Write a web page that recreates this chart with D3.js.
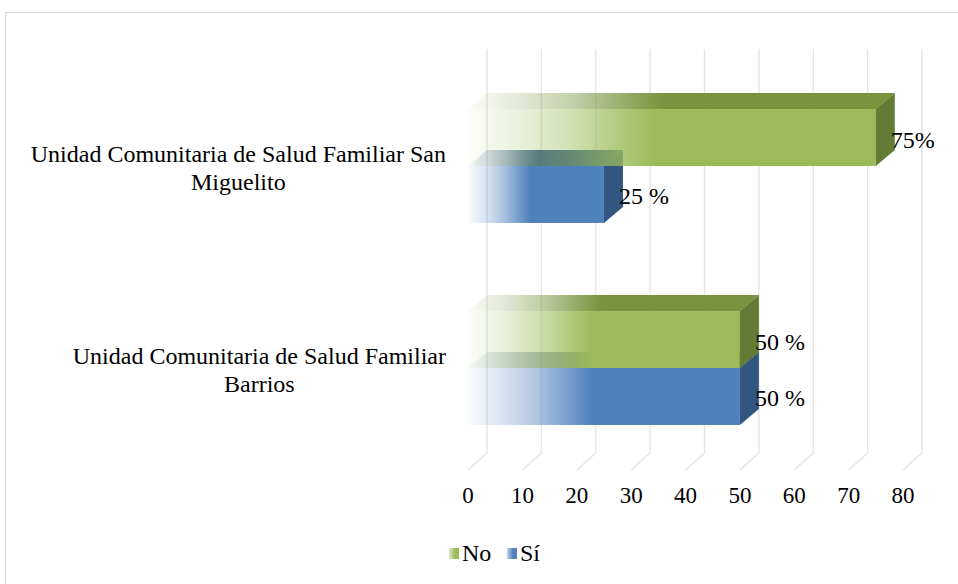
<!DOCTYPE html>
<html>
<head>
<meta charset="utf-8">
<script src="https://cdn.jsdelivr.net/npm/d3@7"></script>
<style>
	body { margin: 0; background: #fff; }
</style>
</head>
<body>
<div id="viz"></div>
<script>

	/********
	 * DATA *
	 ********/

	var CATEGORIES = ["San Miguelito", "Barrios"];
	var CATEGORY_LINES = [
		["Unidad Comunitaria de Salud Familiar San", "Miguelito"],
		["Unidad Comunitaria de Salud Familiar", "Barrios"]
	];
	var SERIES = ["No", "Sí"];
	var NO_VALUES = [75, 50];
	var SI_VALUES = [25, 50];
	var NO_LABELS = ["75%", "50 %"];
	var SI_LABELS = ["25 %", "50 %"];
	var TICKS = [0, 10, 20, 30, 40, 50, 60, 70, 80];

	/*****************
	 * INITIAL SETUP *
	 *****************/

	var SVG_WIDTH = 958, SVG_HEIGHT = 584;
	var FONT = "'Liberation Serif', 'DejaVu Serif', serif";
	var DX = 19, DY = -16;           // 3d depth offset
	var GRID_COLOR = "#e3e3e3";
	var COLORS = {
		"No": { front: "#9bbb59", top: "#77933c", side: "#647b35" },
		"Sí": { front: "#4f81bd", top: "#3a5f8b", side: "#325581" }
	};

	var SVG_SPACE = d3.select("#viz")
		.append("svg")
		.attr("width", SVG_WIDTH)
		.attr("height", SVG_HEIGHT)
		.style("font-family", FONT);

	var x = d3.scaleLinear().domain([0, 80]).range([468, 903]);
	var y = d3.scaleBand().domain(CATEGORIES).range([65, 469])
		.paddingInner(0.436).paddingOuter(0.218);
	var yInner = d3.scaleBand().domain(SERIES).range([0, y.bandwidth()]);

	// Chart border (right and bottom fall outside the picture)
	SVG_SPACE.append("rect")
		.attr("x", 5.5).attr("y", 12.5)
		.attr("width", 1000).attr("height", 700)
		.attr("fill", "none")
		.attr("stroke", "#d9d9d9");

	// Fading gradients
	var defs = SVG_SPACE.append("defs");
	function fade(id, color, stops){
		var g = defs.append("linearGradient")
			.attr("id", id)
			.attr("x1", 0).attr("x2", 1).attr("y1", 0).attr("y2", 0);
		stops.forEach(function(s){
			g.append("stop")
				.attr("offset", s[0])
				.attr("stop-color", color)
				.attr("stop-opacity", s[1]);
		});
	}
	var FADE = [[0, 0.03], [0.12, 0.2], [0.25, 0.45], [0.38, 0.8], [0.46, 1], [1, 1]];
	SERIES.forEach(function(s, i){
		fade("front" + i, COLORS[s].front, FADE);
		fade("top" + i, COLORS[s].top, FADE);
		fade("leg" + i, COLORS[s].front, [[0, 0.35], [0.6, 1], [1, 1]]);
	});

	/*************
	 * GRIDLINES *
	 *************/

	var grid = SVG_SPACE.append("g")
		.attr("stroke", GRID_COLOR)
		.attr("stroke-width", 1.3)
		.attr("fill", "none");

	grid.selectAll("path")
		.data(TICKS)
		.enter()
		.append("path")
		.attr("d", function(d){
			var fx = x(d), y0 = y.range()[0], y1 = y.range()[1];
			return "M" + fx + "," + (y1 + 1) +
				"L" + (fx + DX) + "," + (y1 + DY) +
				"L" + (fx + DX) + "," + (y0 + DY);
		});

	SVG_SPACE.append("g")
		.selectAll("text")
		.data(TICKS)
		.enter()
		.append("text")
		.attr("x", function(d){ return x(d); })
		.attr("y", 503)
		.attr("text-anchor", "middle")
		.style("font-family", FONT)
		.style("font-size", "23px")
		.text(function(d){ return d; });

	/********
	 * BARS *
	 ********/

	function drawSeries(si, values, labels){
		var s = SERIES[si];
		var g = SVG_SPACE.append("g");
		var rows = g.selectAll("g")
			.data(CATEGORIES)
			.enter()
			.append("g")
			.attr("transform", function(d){
				return "translate(0," + (y(d) + yInner(s)) + ")";
			});
		var h = yInner.bandwidth();

		// top face
		rows.append("path")
			.attr("fill", "url(#top" + si + ")")
			.attr("d", function(d, i){
				var x0 = x(0), x1 = x(values[i]);
				return "M" + x0 + ",0L" + (x0 + DX) + "," + DY +
					"L" + (x1 + DX) + "," + DY + "L" + x1 + ",0Z";
			});

		// front face
		rows.append("rect")
			.attr("x", x(0))
			.attr("y", 0)
			.attr("height", h)
			.attr("width", function(d, i){ return x(values[i]) - x(0); })
			.attr("fill", "url(#front" + si + ")");

		// side face
		rows.append("path")
			.attr("fill", COLORS[s].side)
			.attr("d", function(d, i){
				var x1 = x(values[i]);
				return "M" + x1 + ",0L" + (x1 + DX) + "," + DY +
					"L" + (x1 + DX) + "," + (h + DY) + "L" + x1 + "," + h + "Z";
			});

		return rows.append("text")
			.attr("x", function(d, i){ return x(values[i]) + 15; })
			.attr("y", h / 2 + 10)
			.style("font-family", FONT)
			.style("font-size", "24px")
			.text(function(d, i){ return labels[i]; });
	}

	// blue behind green so the green fade shows the blue top face
	var siLabels = drawSeries(1, SI_VALUES, SI_LABELS);
	var noLabels = drawSeries(0, NO_VALUES, NO_LABELS);
	siLabels.raise();

	/*******************
	 * CATEGORY LABELS *
	 *******************/

	CATEGORY_LINES.forEach(function(lines, i){
		var c = y(CATEGORIES[i]) + y.bandwidth() / 2;
		var t = SVG_SPACE.append("text")
			.attr("text-anchor", "middle")
			.style("font-family", FONT)
			.style("font-size", "24px");
		lines.forEach(function(l, j){
			t.append("tspan")
				.attr("y", c - 4 + j * 28)
				.text(l);
		});
		var w = d3.max(t.selectAll("tspan").nodes(), function(n){
			return n.getComputedTextLength();
		});
		t.selectAll("tspan").attr("x", 446 - w / 2);
	});

	/**********
	 * LEGEND *
	 **********/

	var LEGEND_X = [449, 507];
	var legend = SVG_SPACE.append("g")
		.selectAll("g")
		.data(SERIES)
		.enter()
		.append("g")
		.attr("transform", function(d, i){
			return "translate(" + LEGEND_X[i] + ",548)";
		});
	legend.append("rect")
		.attr("width", 10).attr("height", 11)
		.attr("fill", function(d, i){ return "url(#leg" + i + ")"; });
	legend.append("text")
		.attr("x", 13)
		.attr("y", 13)
		.style("font-family", FONT)
		.style("font-size", "24px")
		.text(function(d){ return d; });

</script>
</body>
</html>
